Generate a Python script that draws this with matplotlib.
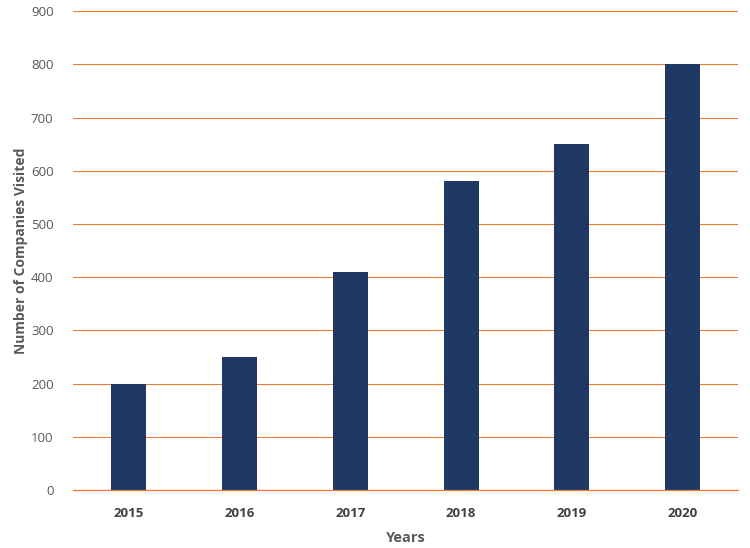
import matplotlib
matplotlib.use("Agg")
from matplotlib import pyplot as plt
import numpy as np

years = ["2015", "2016", "2017", "2018", "2019", "2020"]
companies = [200, 250, 410, 580, 650, 800]
y_ticks = list(range(0, 1000, 100))

BAR_COLOR = "#203864"
GRID_COLOR = "#ED7D31"
TEXT_COLOR = "#595959"

plt.rcParams["font.family"] = ["Open Sans", "DejaVu Sans"]

fig = plt.figure(figsize=(7.5, 5.48), dpi=100)
ax = fig.add_axes([0.0973, 0.1058, 0.887, 0.874])

x = np.arange(len(years))
ax.bar(x, companies, width=0.316, color=BAR_COLOR, zorder=3)

ax.set_xlim(-0.5, len(years) - 0.5)
ax.set_ylim(0, 900)
ax.set_yticks(y_ticks)
ax.yaxis.grid(True, color=GRID_COLOR, linewidth=0.8, zorder=0)
ax.set_axisbelow(True)

for s in ax.spines.values():
    s.set_visible(False)
ax.axhline(0, color=GRID_COLOR, linewidth=0.9, zorder=4, clip_on=False)

ax.tick_params(axis="both", length=0)
ax.tick_params(axis="y", pad=14, labelsize=9.5, labelcolor=TEXT_COLOR)
ax.tick_params(axis="x", pad=12, labelsize=9.5, labelcolor="#404040")
ax.set_xticks(x)
ax.set_xticklabels(years, fontweight="bold")

ax.set_xlabel("Years", fontsize=10.5, fontweight="bold", color=TEXT_COLOR, labelpad=8)
ax.set_ylabel("Number of Companies Visited", fontsize=10, fontweight="bold",
              color=TEXT_COLOR, labelpad=2)

plt.savefig("out.png", dpi=100)
